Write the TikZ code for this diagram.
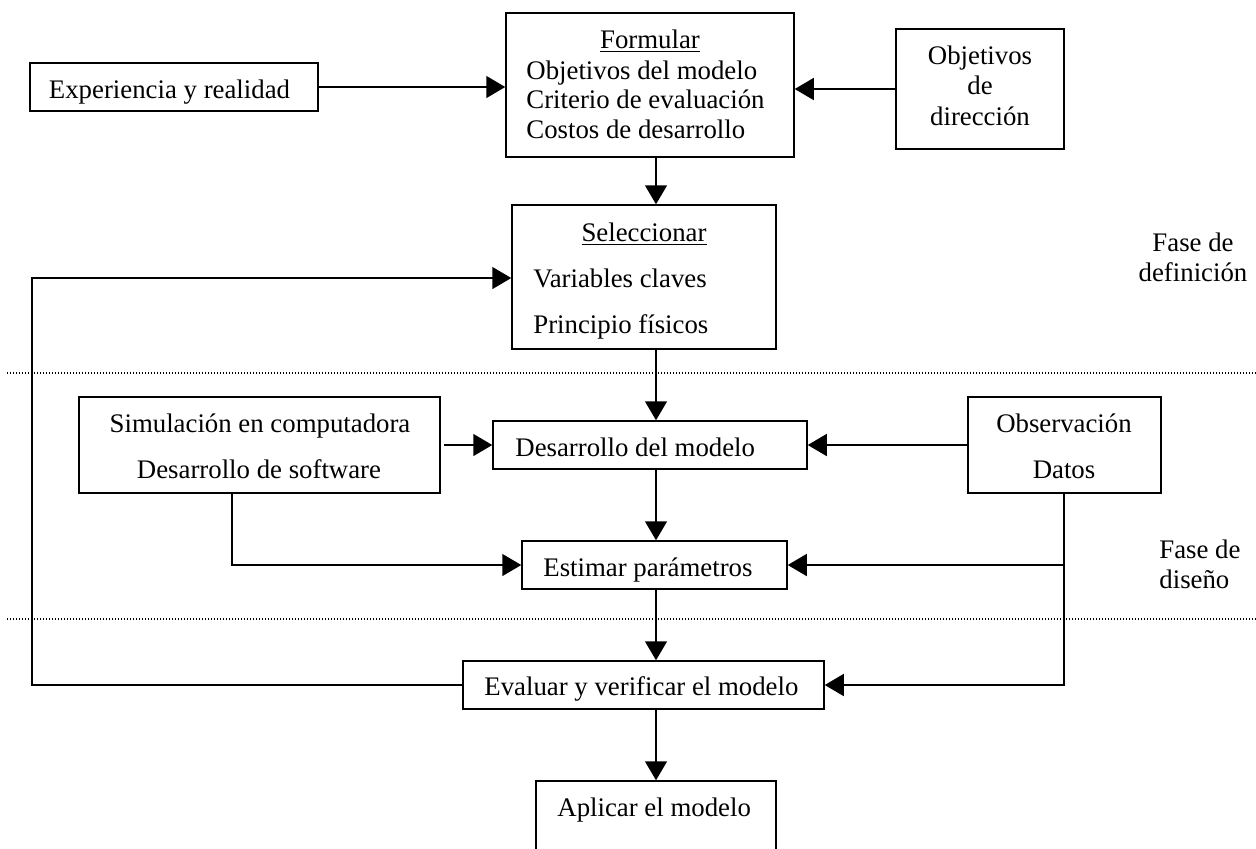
\documentclass[tikz,border=0pt]{standalone}
\usepackage{fontspec}
\setmainfont{Liberation Serif}
\usetikzlibrary{arrows.meta}
\begin{document}
\begin{tikzpicture}[x=0.5pt,y=-0.5pt,
  box/.style={draw,line width=0.75pt,inner sep=0pt,fill=none},
  txt/.style={inner sep=0pt,font=\fontsize{13.4}{16}\selectfont},
  conn/.style={line width=0.75pt},
  arr/.style={line width=0.75pt,-{Triangle[length=9.5pt,width=11pt]}},
  phase/.style={line width=0.6pt,dash pattern=on 0.6pt off 0.9pt}]
\clip (0,0) rectangle (1256,848);
\fill[white] (0,0) rectangle (1256,848);
% boxes
\node[box,minimum width=144pt,minimum height=24pt] (exp) at (174,87) {};
\node[box,minimum width=144pt,minimum height=72pt] (formular) at (650,85) {};
\node[box,minimum width=84pt,minimum height=60pt] (objdir) at (980,89) {};
\node[box,minimum width=132pt,minimum height=72pt] (selecc) at (644,277) {};
\node[box,minimum width=180.5pt,minimum height=48pt] (sim) at (259.5,445) {};
\node[box,minimum width=157pt,minimum height=24pt] (desarrollo) at (650,445) {};
\node[box,minimum width=96.5pt,minimum height=48pt] (obs) at (1064.5,445) {};
\node[box,minimum width=132.5pt,minimum height=24pt] (estimar) at (654.5,565) {};
\node[box,minimum width=180.5pt,minimum height=24pt] (evaluar) at (643.5,685) {};
\node[box,minimum width=120pt,minimum height=48pt] (aplicar) at (656,829) {};
% texts
\node[txt,anchor=base] (t1) at (169.5,98) {Experiencia y realidad};
\node[txt,anchor=base] (t2) at (650,48) {\underline{Formular}};
\node[txt,anchor=base west] (t3) at (526,79) {Objetivos del modelo};
\node[txt,anchor=base west] (t4) at (526,108) {Criterio de evaluación};
\node[txt,anchor=base west] (t5) at (526,138) {Costos de desarrollo};
\node[txt,anchor=base] (t6) at (980,64) {Objetivos};
\node[txt,anchor=base] (t7) at (980,94) {de};
\node[txt,anchor=base] (t8) at (980,125) {dirección};
\node[txt,anchor=base] (t9) at (644,241) {\underline{Seleccionar}};
\node[txt,anchor=base west] (t10) at (533,287) {Variables claves};
\node[txt,anchor=base west] (t11) at (533,333) {Principio físicos};
\node[txt,anchor=base] (t12) at (260,432) {Simulación en computadora};
\node[txt,anchor=base] (t13) at (259,478) {Desarrollo de software};
\node[txt,anchor=base west] (t14) at (515,456) {Desarrollo del modelo};
\node[txt,anchor=base] (t15) at (1064,432) {Observación};
\node[txt,anchor=base] (t16) at (1064,478) {Datos};
\node[txt,anchor=base west] (t17) at (543,576) {Estimar parámetros};
\node[txt,anchor=base west] (t18) at (484,695) {Evaluar y verificar el modelo};
\node[txt,anchor=base west] (t19) at (557,816) {Aplicar el modelo};
\node[txt,anchor=base] (t20) at (1193,251) {Fase de};
\node[txt,anchor=base] (t21) at (1193,281) {definición};
\node[txt,anchor=base west] (t22) at (1159,558) {Fase de};
\node[txt,anchor=base west] (t23) at (1159,588) {diseño};
% helper coordinates
\coordinate (spine) at (656,0);
\coordinate (simx) at (232,0);
\coordinate (obsx) at (1064,0);
\coordinate (loop) at (32,278);
\coordinate (d1a) at (7,373);
\coordinate (d1b) at (1256,373);
\coordinate (d2a) at (7,619);
\coordinate (d2b) at (1256,619);
% phase separators
\draw[phase] (d1a) -- (d1b);
\draw[phase] (d2a) -- (d2b);
% connectors
\draw[arr] (exp.east) -- (exp.east -| formular.west);
\draw[arr] (objdir.west) -- (objdir.west -| formular.east);
\draw[arr] (formular.south -| spine) -- (selecc.north -| spine);
\draw[arr] (selecc.south -| spine) -- (desarrollo.north -| spine);
\draw[arr] (desarrollo.south -| spine) -- (estimar.north -| spine);
\draw[arr] (estimar.south -| spine) -- (evaluar.north -| spine);
\draw[arr] (evaluar.south -| spine) -- (aplicar.north -| spine);
\draw[arr] ([xshift=1.5pt]sim.east) -- (desarrollo.west);
\draw[arr] (obs.west) -- (desarrollo.east);
\draw[arr] (sim.south -| simx) |- (estimar.west);
\draw[arr] (obs.south -| obsx) |- (estimar.east);
\draw[arr] (obs.south -| obsx) |- (evaluar.east);
\draw[arr] (evaluar.west) -| (loop) -- (loop -| selecc.west);
\end{tikzpicture}
\end{document}
